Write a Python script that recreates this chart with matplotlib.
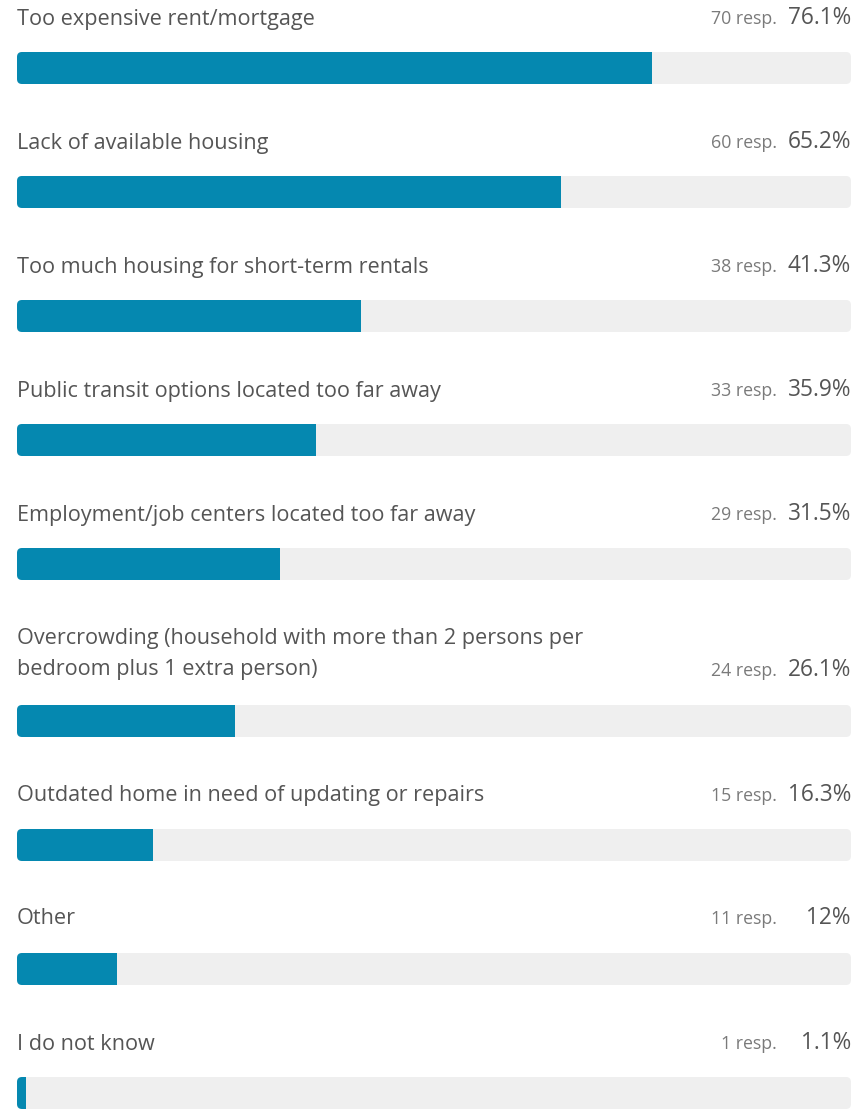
import matplotlib
matplotlib.use("Agg")
import matplotlib.pyplot as plt
from matplotlib.patches import FancyBboxPatch, Rectangle

labels = [
    "Too expensive rent/mortgage",
    "Lack of available housing",
    "Too much housing for short-term rentals",
    "Public transit options located too far away",
    "Employment/job centers located too far away",
    "Overcrowding (household with more than 2 persons per\nbedroom plus 1 extra person)",
    "Outdated home in need of updating or repairs",
    "Other",
    "I do not know",
]
responses = [70, 60, 38, 33, 29, 24, 15, 11, 1]
percents = [76.1, 65.2, 41.3, 35.9, 31.5, 26.1, 16.3, 12, 1.1]

W, H = 867, 1111
DPI = 100
FONT = ["Open Sans", "DejaVu Sans"]
BAR_COLOR = "#0588b0"
TRACK_COLOR = "#efefef"
TEXT_COLOR = "#555555"
RESP_COLOR = "#7a7a7a"

# vertical layout (pixels from top): label centre and bar top
label_y = [19, 143, 267, 391, 515, 654, 796, 919, 1044]
bar_top = [52, 176, 300, 424, 548, 705, 829, 953, 1077]
value_y = [18, 142, 266, 390, 514, 670, 795, 918, 1043]
BAR_H = 32
TRACK_X0, TRACK_X1 = 17, 851

fig = plt.figure(figsize=(W / DPI, H / DPI), dpi=DPI)
fig.patch.set_facecolor("white")

# text layer in pixel coordinates
tax = fig.add_axes([0, 0, 1, 1])
tax.set_xlim(0, W)
tax.set_ylim(H, 0)
tax.axis("off")

# bar layer: x in percent, y in pixels
bx = fig.add_axes([TRACK_X0 / W, 0, (TRACK_X1 - TRACK_X0) / W, 1])
bx.set_xlim(0, 100)
bx.set_ylim(H, 0)
bx.axis("off")
bx.patch.set_alpha(0)

px_per_unit = (TRACK_X1 - TRACK_X0) / 100.0
radius_px = 5

for lab, n, p, ly, bt, vy in zip(labels, responses, percents, label_y, bar_top, value_y):
    track = FancyBboxPatch(
        (0, bt), 100, BAR_H,
        boxstyle=f"round,pad=0,rounding_size={radius_px / px_per_unit}",
        mutation_aspect=px_per_unit,
        facecolor=TRACK_COLOR, edgecolor="none",
    )
    bx.add_patch(track)
    fill = Rectangle((0, bt), p, BAR_H, facecolor=BAR_COLOR, edgecolor="none")
    bx.add_patch(fill)
    fill.set_clip_path(track)

    tax.text(17, ly, lab, family=FONT, fontsize=15.6, color=TEXT_COLOR,
             ha="left", va="center", linespacing=1.68)
    pct = f"{p:g}%"
    tax.text(851, vy, pct, family=FONT, fontsize=16.3, color=TEXT_COLOR,
             ha="right", va="center")
    tax.text(777, vy + 1, f"{n} resp.", family=FONT, fontsize=12.8, color=RESP_COLOR,
             ha="right", va="center")

fig.savefig("out.png", dpi=DPI, facecolor="white")
